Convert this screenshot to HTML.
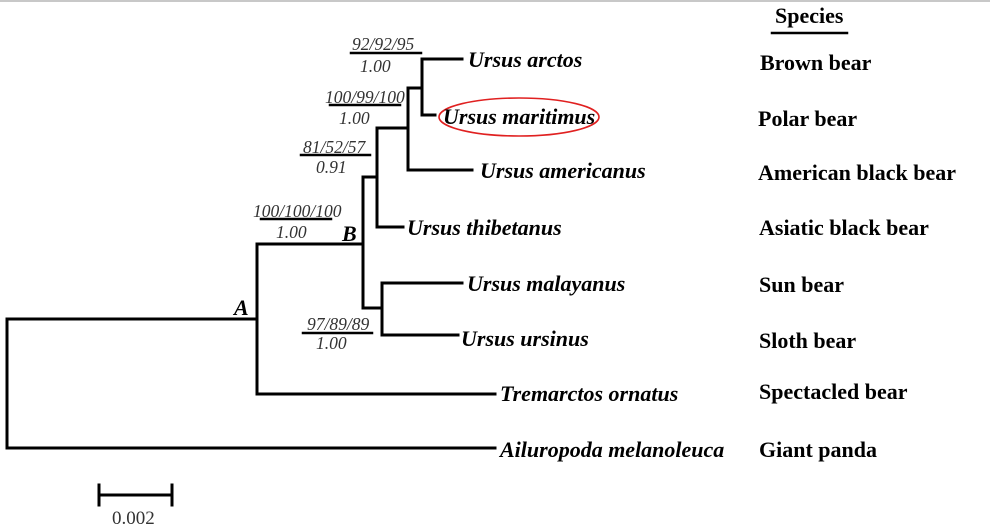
<!DOCTYPE html>
<html><head><meta charset="utf-8"><style>
html,body{margin:0;padding:0;background:#fff;}
svg{display:block;}
text{font-family:"Liberation Serif",serif;}
.t{font-size:22px;font-weight:bold;font-style:italic;}
.c{font-size:22px;font-weight:bold;}
.s{font-size:17.5px;font-style:italic;fill:#333;}
</style></head><body>
<svg width="990" height="527" viewBox="0 0 990 527" xmlns="http://www.w3.org/2000/svg">
<rect x="0" y="0" width="990" height="2" fill="#c8c8c8"/>
<g stroke="#000" stroke-width="3" fill="none" stroke-linecap="square">
<path d="M462 59H422V115H435"/>
<path d="M422 88H408"/>
<path d="M408 88V170H472"/>
<path d="M408 128H377"/>
<path d="M377 128V227H403"/>
<path d="M377 177H363"/>
<path d="M363 177V308H382"/>
<path d="M462 283H382V335H458"/>
<path d="M363 244H257"/>
<path d="M257 244V394H495"/>
<path d="M257 319H7V448H495"/>
<path d="M99 495H172M99 485V505M172 485V505"/>
<path d="M351 53H421M330 105H400M301 155H370M261 219H331M303 333H372" stroke-width="2.5"/>
<path d="M772 33H847" stroke-width="2.5"/>
</g>
<ellipse cx="519" cy="117" rx="80" ry="19" fill="none" stroke="#e02020" stroke-width="1.6"/>
<text class="t" x="468" y="67">Ursus arctos</text>
<text class="t" x="443" y="124">Ursus maritimus</text>
<text class="t" x="480" y="178">Ursus americanus</text>
<text class="t" x="407" y="235">Ursus thibetanus</text>
<text class="t" x="467" y="291">Ursus malayanus</text>
<text class="t" x="461" y="346">Ursus ursinus</text>
<text class="t" x="500" y="401">Tremarctos ornatus</text>
<text class="t" x="500" y="457">Ailuropoda melanoleuca</text>
<text class="t" x="234" y="315">A</text>
<text class="t" x="342" y="241">B</text>
<text class="s" x="352" y="50">92/92/95</text>
<text class="s" x="360" y="72">1.00</text>
<text class="s" x="325" y="103">100/99/100</text>
<text class="s" x="339" y="124">1.00</text>
<text class="s" x="303" y="153">81/52/57</text>
<text class="s" x="316" y="173">0.91</text>
<text class="s" x="253" y="217">100/100/100</text>
<text class="s" x="276" y="238">1.00</text>
<text class="s" x="307" y="330">97/89/89</text>
<text class="s" x="316" y="349">1.00</text>
<text x="112" y="524" style="font-size:19px;fill:#333">0.002</text>
<text class="c" x="775" y="23">Species</text>
<text class="c" x="760" y="70">Brown bear</text>
<text class="c" x="758" y="126">Polar bear</text>
<text class="c" x="758" y="180">American black bear</text>
<text class="c" x="759" y="235">Asiatic black bear</text>
<text class="c" x="759" y="292">Sun bear</text>
<text class="c" x="759" y="348">Sloth bear</text>
<text class="c" x="759" y="399">Spectacled bear</text>
<text class="c" x="759" y="457">Giant panda</text>
</svg>
</body></html>
